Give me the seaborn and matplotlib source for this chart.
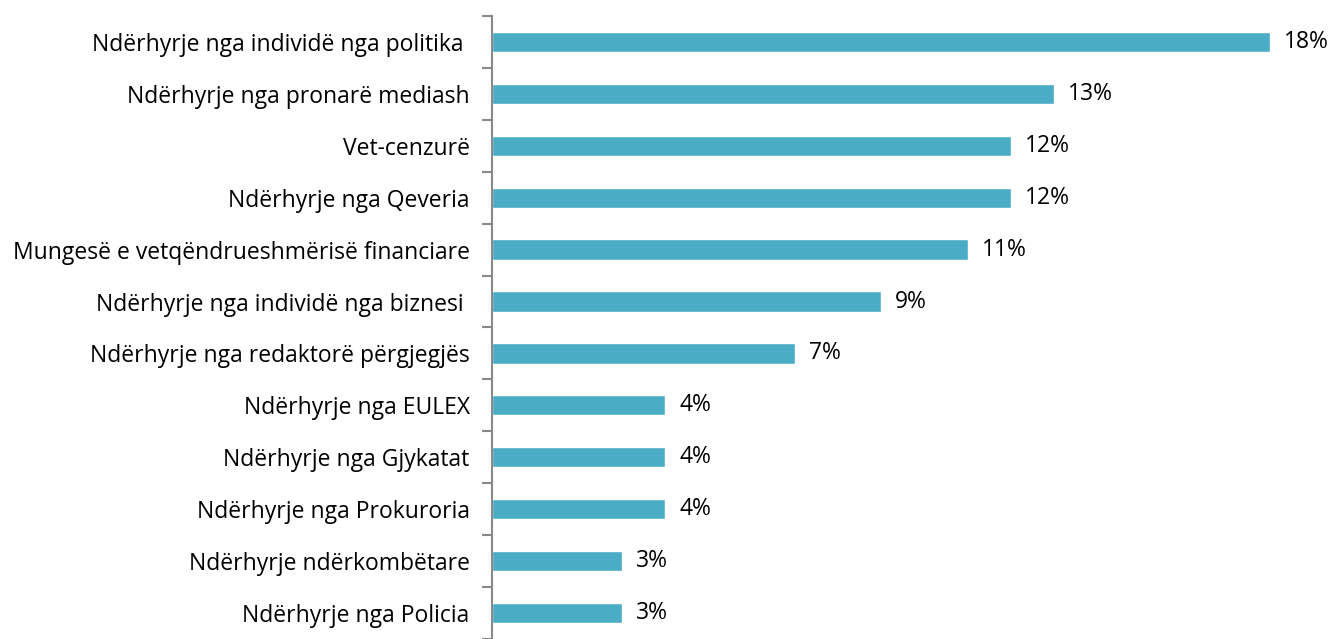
import matplotlib
matplotlib.use("Agg")
import matplotlib.pyplot as plt
import seaborn as sb
import pandas as pd
import numpy as np

categories = [
    "Ndërhyrje nga individë nga politika ",
    "Ndërhyrje nga pronarë mediash",
    "Vet-cenzurë",
    "Ndërhyrje nga Qeveria",
    "Mungesë e vetqëndrueshmërisë financiare",
    "Ndërhyrje nga individë nga biznesi ",
    "Ndërhyrje nga redaktorë përgjegjës",
    "Ndërhyrje nga EULEX",
    "Ndërhyrje nga Gjykatat",
    "Ndërhyrje nga Prokuroria",
    "Ndërhyrje ndërkombëtare",
    "Ndërhyrje nga Policia",
]
values = [18, 13, 12, 12, 11, 9, 7, 4, 4, 4, 3, 3]

data = pd.DataFrame({"category": categories, "value": values})

sb.set_style("white")
plt.rcParams["font.family"] = ["Open Sans", "DejaVu Sans"]

fig = plt.figure(figsize=(13.35, 6.39), dpi=100)
ax = fig.add_axes([0.3685, 0.0, 0.6315, 0.975])

sb.barplot(x="value", y="category", data=data, ax=ax, orient="h",
           color="#4BACC6", saturation=1, width=0.39)

ax.set_xlim(0, 19.5)
ax.set_ylim(len(categories) - 0.5, -0.5)
ax.set_xlabel("")
ax.set_ylabel("")
ax.set_xticks([])

# value labels right of each bar
for i, v in enumerate(values):
    ax.text(v + 0.33, i, f"{v}%", va="center", ha="left", fontsize=16.5, color="#000000")

ax.tick_params(axis="y", which="major", left=False, length=0, pad=16,
               labelsize=16.5, labelcolor="#000000")
ax.set_yticks(np.arange(-0.5, len(categories), 1), minor=True)
ax.tick_params(axis="y", which="minor", left=True, length=7, width=1.5,
               color="#898989", direction="out")

for s in ["top", "right", "bottom"]:
    ax.spines[s].set_visible(False)
ax.spines["left"].set_color("#898989")
ax.spines["left"].set_linewidth(1.5)

fig.savefig("out.png", dpi=100)
